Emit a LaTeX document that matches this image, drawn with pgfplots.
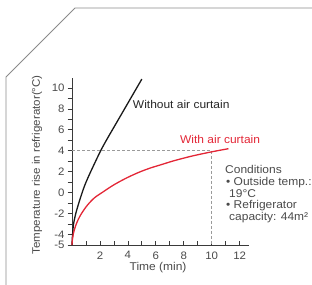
\documentclass[border=0pt]{standalone}
\usepackage{fontspec}
\setmainfont{Liberation Sans}[FakeStretch=1.06]
\usepackage{pgfplots}
\pgfplotsset{compat=1.18}
\definecolor{axgray}{HTML}{3A3A3A}
\definecolor{txtgray}{HTML}{4A4A4A}
\definecolor{curvered}{HTML}{E32636}
\definecolor{dashgray}{HTML}{9A9A9A}
\definecolor{framegray}{HTML}{8A8A8A}
\begin{document}
\fontsize{11.3}{13}\selectfont
\begin{tikzpicture}
\useasboundingbox (0,0) rectangle (312pt,284pt);
\draw[framegray, line width=0.9pt] (6pt,-2pt) -- (6pt,207pt) -- (75pt,276pt) -- (314pt,276pt);
\begin{axis}[
  at={(72pt,39pt)}, anchor=south west,
  scale only axis, width=177.4pt, height=167.5pt,
  xmin=0, xmax=12.7, ymin=-5, ymax=11,
  axis x line=bottom, axis y line=left,
  axis line style={axgray, line width=0.8pt, -},
  clip=false,
  xtick={2,4,6,8,10,12}, minor xtick={1,3,5,7,9,11},
  ytick={-5,-4,-2,0,2,4,6,8,10}, minor ytick={-3,-1,1,3,5,7,9},
  tick align=outside,
  major tick length=4.5pt, minor tick length=4.5pt,
  every tick/.style={axgray, line width=0.7pt},
  every x tick/.append style={yshift=4.5pt},
  /pgf/number format/assume math mode=true,
  ticklabel style={font=\fontsize{10.8}{12}\selectfont, text=txtgray},
  xticklabel style={yshift=2pt},
  yticklabel style={xshift=1pt},
  xlabel={Time (min)},
  ylabel={Temperature rise in refrigerator(°C)},
  xlabel style={at={(axis description cs:0.485,-0.137)}, anchor=center, text=txtgray},
  ylabel style={at={(axis description cs:-0.197,0.478)}, anchor=center, text=txtgray, font=\fontsize{10.9}{13}\selectfont},
]
% dashed guide lines
\addplot[dashgray, line width=0.7pt, dash pattern=on 3pt off 2pt] coordinates {(0,4) (10,4)};
\addplot[dashgray, line width=0.7pt, dash pattern=on 3pt off 2pt] coordinates {(10,4) (10,-5)};
% without air curtain
\addplot[black!90, line width=1.3pt, smooth] coordinates {
(0,-5) (0.02,-4.4) (0.1,-3.1) (0.25,-2.1) (0.45,-1.15) (0.7,-0.1) (0.93,0.76) (1.2,1.6) (1.53,2.55) (2.05,4.0) (2.5,5.1) (3,6.25) (3.5,7.4) (4,8.55) (4.5,9.7) (5.0,10.85)};
% with air curtain
\addplot[curvered, line width=1.3pt, smooth] coordinates {
(0,-5) (0.02,-4.6) (0.1,-3.9) (0.25,-3.2) (0.45,-2.55) (0.7,-1.95) (1.1,-1.2) (1.6,-0.5) (2.2,0.05) (3.0,0.75) (3.9,1.4) (4.8,1.95) (5.6,2.35) (6.5,2.72) (7.3,3.05) (8.6,3.5) (10,3.9) (11.2,4.2)};
\node[anchor=west, inner sep=0pt, text=black!85] at (axis cs:4.35,8.4) {Without air curtain};
\node[anchor=west, inner sep=0pt, text=curvered] at (axis cs:7.73,5.06) {With air curtain};
\end{axis}
\begin{scope}[every node/.style={anchor=base west, inner sep=0pt, text=txtgray, font=\fontsize{11.3}{13}\selectfont}]
\node at (225pt,110.3pt) {Conditions};
\node at (226pt,98.6pt) {• Outside temp.:};
\node at (229pt,87pt) {19°C};
\node at (226pt,75.3pt) {• Refrigerator};
\node at (229pt,63.6pt) {capacity: 44m²};
\end{scope}
\end{tikzpicture}
\end{document}
